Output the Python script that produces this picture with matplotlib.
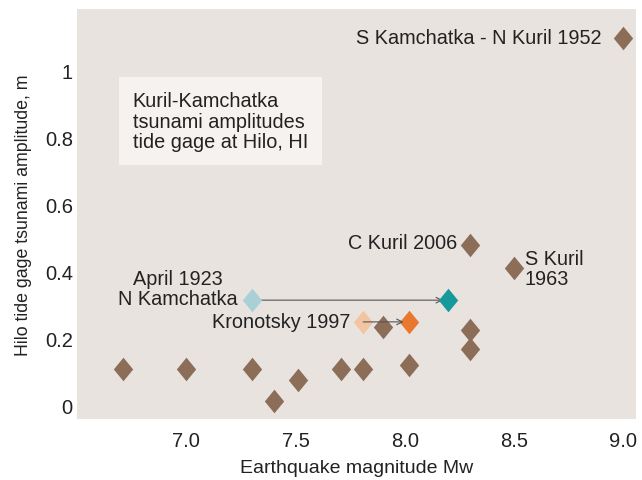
import matplotlib.pyplot as plt

plt.rcParams['font.family'] = ['Liberation Sans', 'DejaVu Sans']

# Kuril-Kamchatka events: magnitude and Hilo amplitude (m)
mag = [9.0, 8.3, 8.5, 7.9, 8.3, 8.3, 6.71, 7.0, 7.3, 7.4, 7.51, 7.71, 7.81, 8.02]
amp = [1.10, 0.48, 0.41, 0.235, 0.225, 0.17, 0.11, 0.11, 0.11, 0.015, 0.075, 0.11, 0.11, 0.12]

# revised events: old -> new magnitude
apr1923_mag = [7.3, 8.2]
apr1923_amp = [0.315, 0.315]
kron1997_mag = [7.81, 8.02]
kron1997_amp = [0.25, 0.25]

yticks = [0, 0.2, 0.4, 0.6, 0.8, 1.0]
ytick_labels = ['0', '0.2', '0.4', '0.6', '0.8', '1']
xticks = [7.0, 7.5, 8.0, 8.5, 9.0]

brown = '#8c6d57'
diamond = [(0, 1), (0.82, 0), (0, -1), (-0.82, 0), (0, 1)]

fig = plt.figure(figsize=(6.42, 4.81), dpi=100)
ax = fig.add_axes([0.12, 0.127, 0.871, 0.852])
ax.set_facecolor('#e9e3e0')
for s in ax.spines.values():
    s.set_visible(False)

ax.set_xlim(6.5, 9.06)
ax.set_ylim(-0.04, 1.185)

# arrows showing magnitude revisions
ax.annotate('', xy=(apr1923_mag[1], apr1923_amp[1]), xytext=(apr1923_mag[0], apr1923_amp[0]),
            arrowprops=dict(arrowstyle='->', color='#555555', lw=0.8, shrinkA=0, shrinkB=4))
ax.annotate('', xy=(kron1997_mag[1], kron1997_amp[1]), xytext=(kron1997_mag[0], kron1997_amp[0]),
            arrowprops=dict(arrowstyle='->', color='#555555', lw=0.8, shrinkA=0, shrinkB=4), zorder=4)

ax.plot(mag, amp, linestyle='none', marker=diamond, ms=17, color=brown, mec='none', zorder=3)
ax.plot(apr1923_mag[0], apr1923_amp[0], linestyle='none', marker=diamond, ms=17, color='#a9cfd7', mec='none', zorder=3)
ax.plot(apr1923_mag[1], apr1923_amp[1], linestyle='none', marker=diamond, ms=17, color='#16999b', mec='none', zorder=3)
ax.plot(kron1997_mag[0], kron1997_amp[0], linestyle='none', marker=diamond, ms=17, color='#f2c4a2', mec='none', zorder=3)
ax.plot(kron1997_mag[1], kron1997_amp[1], linestyle='none', marker=diamond, ms=17, color='#e8782e', mec='none', zorder=3)

fs = 14.3
tc = '#222222'
ax.text(8.9, 1.10, 'S Kamchatka - N Kuril 1952', ha='right', va='center', fontsize=fs, color=tc)
ax.text(8.24, 0.487, 'C Kuril 2006', ha='right', va='center', fontsize=fs, color=tc)
ax.text(8.55, 0.41, 'S Kuril\n1963', ha='left', va='center', fontsize=fs, color=tc, linespacing=1.1)
ax.text(7.235, 0.35, 'April 1923\nN Kamchatka', ha='right', va='center', fontsize=fs, color=tc,
        linespacing=1.1, multialignment='center')
ax.text(7.75, 0.25, 'Kronotsky 1997', ha='right', va='center', fontsize=fs, color=tc)

ax.text(6.755, 0.94, 'Kuril-Kamchatka\ntsunami amplitudes\ntide gage at Hilo, HI', ha='left', va='top',
        fontsize=fs, color=tc, linespacing=1.1,
        bbox=dict(boxstyle='square,pad=0.7', fc='#f6f2ef', ec='none'))

ax.set_xticks(xticks)
ax.set_xticklabels(['%.1f' % v for v in xticks])
ax.set_yticks(yticks)
ax.set_yticklabels(ytick_labels)
ax.tick_params(length=0, labelsize=14.5, colors=tc)
ax.tick_params(axis='y', pad=3)
ax.tick_params(axis='x', pad=9)

ax.set_xlabel('Earthquake magnitude Mw', fontsize=14, color=tc, labelpad=6)
ax.set_ylabel('Hilo tide gage tsunami amplitude, m', fontsize=12.8, color=tc, labelpad=9)

fig.savefig('out.png', dpi=100)
